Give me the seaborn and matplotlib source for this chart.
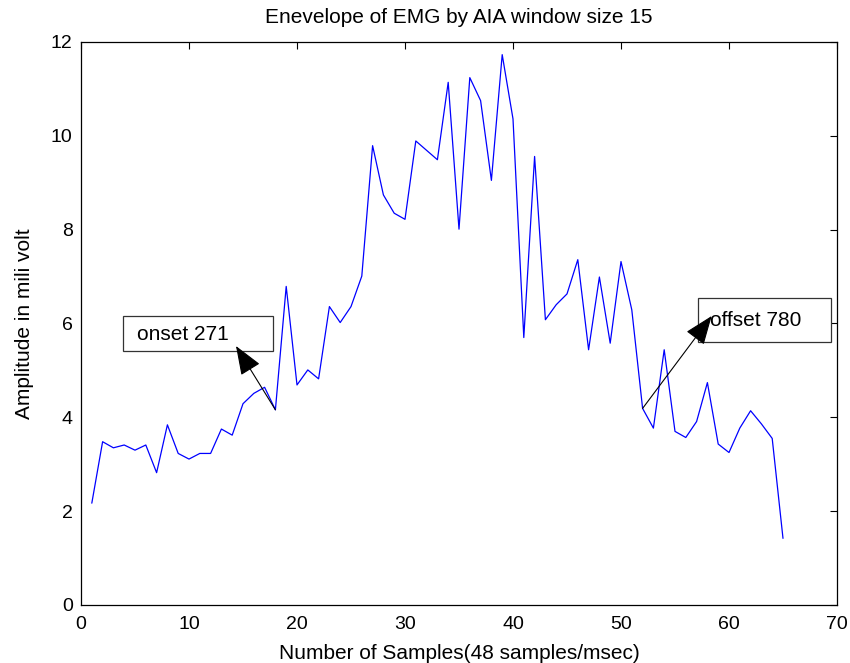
import numpy as np
import pandas as pd
import seaborn as sns
import matplotlib.pyplot as plt
from matplotlib.patches import Rectangle

# envelope values, one per sample index 1..65
samples = list(range(1, 66))
amplitude = [
    2.17, 3.48, 3.35, 3.41, 3.30, 3.41, 2.82, 3.84, 3.23, 3.11,
    3.23, 3.23, 3.75, 3.62, 4.29, 4.51, 4.64, 4.16, 6.79, 4.69,
    5.01, 4.82, 6.36, 6.02, 6.36, 7.01, 9.79, 8.74, 8.35, 8.22,
    9.89, 9.69, 9.49, 11.14, 8.01, 11.24, 10.75, 9.05, 11.73, 10.36,
    5.70, 9.56, 6.08, 6.40, 6.63, 7.36, 5.44, 6.99, 5.58, 7.32,
    6.29, 4.19, 3.77, 5.44, 3.70, 3.57, 3.91, 4.74, 3.43, 3.25,
    3.77, 4.14, 3.86, 3.55, 1.42,
]
x_ticks = [0, 10, 20, 30, 40, 50, 60, 70]
y_ticks = [0, 2, 4, 6, 8, 10, 12]

# annotation labels and the sample each arrow starts from
onset_label, onset_sample = "onset 271", 18
offset_label, offset_sample = "offset 780", 52

df = pd.DataFrame({"sample": samples, "amp": amplitude})

sns.set_style("white")
plt.rcParams["font.family"] = ["Liberation Sans", "DejaVu Sans"]
plt.rcParams["text.color"] = "black"
plt.rcParams["axes.labelcolor"] = "black"

fig = plt.figure(figsize=(8.5, 6.63), dpi=100)
ax = fig.add_axes([0.0953, 0.0875, 0.8894, 0.8492])

sns.lineplot(data=df, x="sample", y="amp", ax=ax, color="#0000ff", linewidth=0.9)

ax.set_xlim(0, 70)
ax.set_ylim(0, 12)
ax.set_xticks(x_ticks)
ax.set_yticks(y_ticks)
ax.tick_params(direction="in", length=5, width=0.8, top=True, right=True,
               labelsize=14, colors="black")
ax.tick_params(axis="x", pad=8)
ax.tick_params(axis="y", pad=6)
for s in ax.spines.values():
    s.set_visible(True)
    s.set_color("black")
    s.set_linewidth(0.9)

ax.set_title("Enevelope of EMG by AIA window size 15", fontsize=15, pad=14)
ax.set_xlabel("Number of Samples(48 samples/msec)", fontsize=15, labelpad=8)
ax.set_ylabel("Amplitude in mili volt", fontsize=15, labelpad=12)

arrow_kw = dict(arrowstyle="-|>,head_length=1.3,head_width=0.5", color="black",
                lw=0.8, shrinkA=0, shrinkB=0, mutation_scale=14)

# onset textarrow
ax.add_patch(Rectangle((3.86, 5.42), 13.94, 0.73, facecolor="white",
                       edgecolor="#333333", lw=0.9, zorder=3))
ax.text(5.2, 5.77, onset_label, fontsize=15, va="center", ha="left", zorder=4)
ax.annotate("", xy=(14.35, 5.52),
            xytext=(onset_sample, amplitude[onset_sample - 1]),
            arrowprops=arrow_kw, zorder=5)

# offset textarrow
ax.add_patch(Rectangle((57.1, 5.61), 12.3, 0.93, facecolor="white",
                       edgecolor="#333333", lw=0.9, zorder=3))
ax.text(58.2, 6.07, offset_label, fontsize=15, va="center", ha="left", zorder=4)
ax.annotate("", xy=(58.4, 6.16),
            xytext=(offset_sample, amplitude[offset_sample - 1]),
            arrowprops=arrow_kw, zorder=5)

plt.savefig("out.png", dpi=100)
